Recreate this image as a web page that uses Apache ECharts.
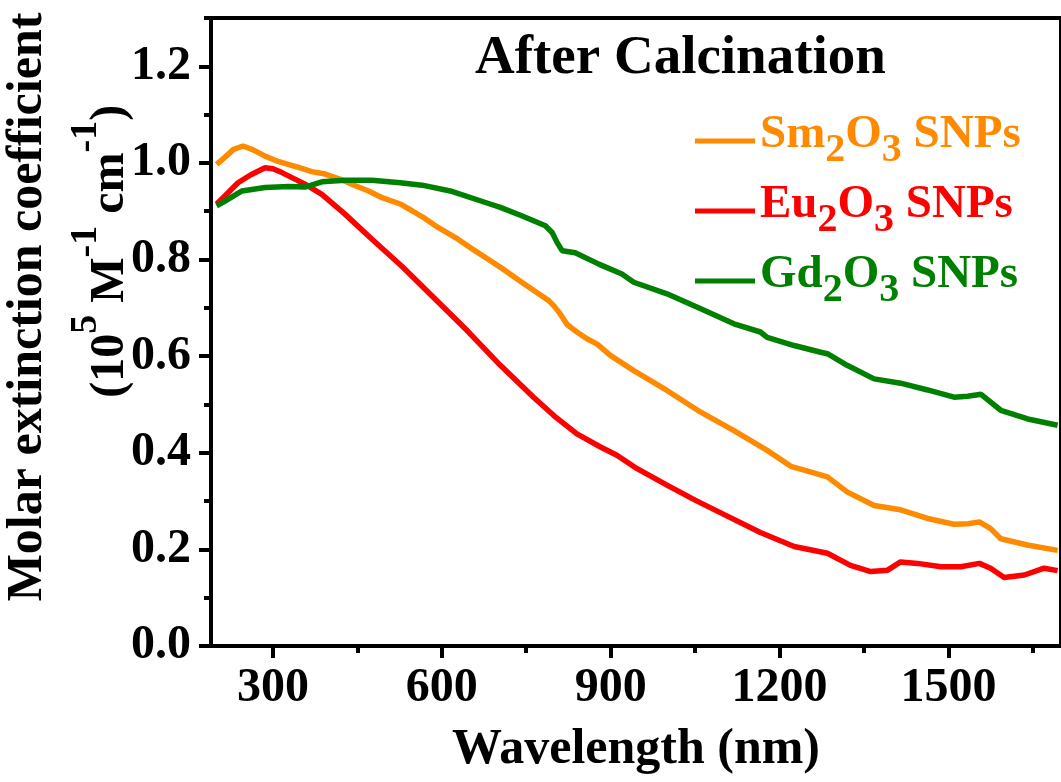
<!DOCTYPE html>
<html>
<head>
<meta charset="utf-8">
<script src="https://cdn.jsdelivr.net/npm/echarts@6/dist/echarts.min.js"></script>
<style>
html,body{margin:0;padding:0;background:#fff;}
#chart{width:1061px;height:782px;}
</style>
</head>
<body>
<div id="chart"></div>
<script>
// ---- data ----
const seriesNames = ['Sm2O3 SNPs', 'Eu2O3 SNPs', 'Gd2O3 SNPs'];

const smWavelength = [200, 215, 230, 247, 265, 286, 305, 327, 350, 369, 393, 420, 440, 470, 494, 526, 547, 570, 594, 625, 654, 683, 713, 742, 772, 790, 800, 810, 823, 840, 858, 876, 900, 941, 1000, 1060, 1119, 1178, 1220, 1250, 1285, 1320, 1368, 1415, 1463, 1510, 1535, 1555, 1575, 1593, 1640, 1694];
const smValue = [0.997, 1.012, 1.028, 1.035, 1.027, 1.014, 1.005, 0.997, 0.989, 0.982, 0.977, 0.966, 0.956, 0.942, 0.928, 0.915, 0.901, 0.885, 0.866, 0.845, 0.822, 0.800, 0.777, 0.753, 0.729, 0.715, 0.703, 0.688, 0.665, 0.650, 0.636, 0.625, 0.601, 0.570, 0.529, 0.484, 0.446, 0.405, 0.372, 0.362, 0.350, 0.319, 0.291, 0.282, 0.264, 0.252, 0.253, 0.257, 0.243, 0.222, 0.209, 0.198];

const euWavelength = [200, 215, 238, 260, 286, 300, 316, 340, 357, 387, 428, 476, 530, 585, 645, 704, 763, 800, 840, 882, 911, 947, 1000, 1050, 1100, 1166, 1226, 1285, 1326, 1362, 1392, 1415, 1445, 1487, 1522, 1555, 1575, 1599, 1635, 1670, 1694];
const euValue = [0.915, 0.932, 0.959, 0.975, 0.990, 0.988, 0.980, 0.966, 0.956, 0.935, 0.894, 0.842, 0.785, 0.722, 0.653, 0.581, 0.515, 0.476, 0.439, 0.412, 0.395, 0.367, 0.333, 0.302, 0.273, 0.235, 0.206, 0.192, 0.167, 0.154, 0.157, 0.174, 0.171, 0.164, 0.164, 0.171, 0.161, 0.142, 0.147, 0.161, 0.156];

const gdWavelength = [200, 215, 245, 286, 328, 357, 387, 428, 476, 526, 565, 615, 683, 704, 743, 784, 796, 805, 814, 837, 880, 920, 941, 1000, 1060, 1119, 1166, 1178, 1226, 1273, 1285, 1320, 1368, 1415, 1463, 1510, 1534, 1558, 1593, 1641, 1694];
const gdValue = [0.911, 0.921, 0.942, 0.949, 0.951, 0.950, 0.961, 0.964, 0.964, 0.959, 0.954, 0.942, 0.916, 0.908, 0.890, 0.870, 0.856, 0.835, 0.818, 0.814, 0.790, 0.770, 0.753, 0.729, 0.698, 0.667, 0.650, 0.639, 0.622, 0.608, 0.605, 0.581, 0.553, 0.544, 0.530, 0.515, 0.517, 0.521, 0.488, 0.470, 0.457];

const xMajorTicks = [300, 600, 900, 1200, 1500];
const xMinorTicks = [450, 750, 1050, 1350, 1650];
const yMajorTicks = [0, 0.2, 0.4, 0.6, 0.8, 1.0, 1.2];
const yMinorTicks = [0.1, 0.3, 0.5, 0.7, 0.9, 1.1, 1.3];

// ---- styling ----
const FONT = 'Liberation Serif';
const colors = { sm: '#FF8A00', eu: '#FF0000', gd: '#008000' };
const X_MIN = 190, X_MAX = 1700, Y_MIN = 0, Y_MAX = 1.3;

function pairs(xs, ys) { return xs.map((x, i) => [x, ys[i]]); }

const axisLineStyle = { color: '#000', width: 4 };
const tickLabelStyle = { fontFamily: FONT, fontWeight: 'bold', fontSize: 48, color: '#000' };

function richPair(color) {
  return [
    { fontFamily: FONT, fontWeight: 'bold', fontSize: 47, lineHeight: 46, color: color, verticalAlign: 'top' },
    { fontFamily: FONT, fontWeight: 'bold', fontSize: 40, lineHeight: 40, color: color, verticalAlign: 'bottom' }
  ];
}
const [oM, oS] = richPair(colors.sm);
const [rM, rS] = richPair(colors.eu);
const [gM, gS] = richPair(colors.gd);
const legendRich = {
  oM, oS, rM, rS, gM, gS,
  sp: { fontFamily: FONT, fontWeight: 'bold', fontSize: 47, lineHeight: 60, verticalAlign: 'middle' }
};
const legendText = {
  'Sm2O3 SNPs': '{oM|Sm}{oS|2}{oM|O}{oS|3}{sp| }{oM|SNPs}',
  'Eu2O3 SNPs': '{rM|Eu}{rS|2}{rM|O}{rS|3}{sp| }{rM|SNPs}',
  'Gd2O3 SNPs': '{gM|Gd}{gS|2}{gM|O}{gS|3}{sp| }{gM|SNPs}'
};

const chart = echarts.init(document.getElementById('chart'), null, { renderer: 'canvas' });

const option = {
  animation: false,
  backgroundColor: '#fff',
  title: {
    text: 'After Calcination',
    left: 475, top: 31, padding: 0,
    textStyle: { fontFamily: FONT, fontWeight: 'bold', fontSize: 55, color: '#000' }
  },
  legend: {
    orient: 'vertical', left: 695, top: 111, padding: 0,
    icon: 'rect',
    itemWidth: 60, itemHeight: 5, itemGap: 10,
    selectedMode: false,
    data: seriesNames,
    formatter: name => legendText[name],
    textStyle: { rich: legendRich }
  },
  grid: { left: 211, right: 0, top: 18, bottom: 136, containLabel: false },
  xAxis: [
    {
      type: 'value', min: X_MIN, max: X_MAX, position: 'bottom',
      axisLine: { show: true, onZero: false, lineStyle: axisLineStyle },
      axisTick: { show: true, length: 12, lineStyle: axisLineStyle, customValues: xMajorTicks },
      axisLabel: Object.assign({ margin: 19, customValues: xMajorTicks, formatter: v => String(v) }, tickLabelStyle),
      splitLine: { show: false },
      name: 'Wavelength (nm)', nameLocation: 'middle', nameGap: 79,
      nameTextStyle: { fontFamily: FONT, fontWeight: 'bold', fontSize: 50, color: '#000' }
    },
    {
      type: 'value', min: X_MIN, max: X_MAX, position: 'bottom',
      axisLine: { show: false, onZero: false },
      axisTick: { show: true, length: 7, lineStyle: axisLineStyle, customValues: xMinorTicks },
      axisLabel: { show: false },
      splitLine: { show: false }
    },
    {
      type: 'value', min: X_MIN, max: X_MAX, position: 'top',
      axisLine: { show: true, onZero: false, lineStyle: axisLineStyle },
      axisTick: { show: false }, axisLabel: { show: false }, splitLine: { show: false }
    }
  ],
  yAxis: [
    {
      type: 'value', min: Y_MIN, max: Y_MAX, position: 'left',
      axisLine: { show: true, onZero: false, lineStyle: axisLineStyle },
      axisTick: { show: true, length: 12, lineStyle: axisLineStyle, customValues: yMajorTicks },
      axisLabel: Object.assign({ margin: 20, customValues: yMajorTicks, formatter: v => v.toFixed(1) }, tickLabelStyle),
      splitLine: { show: false }
    },
    {
      type: 'value', min: Y_MIN, max: Y_MAX, position: 'left',
      axisLine: { show: false, onZero: false },
      axisTick: { show: true, length: 7, lineStyle: axisLineStyle, customValues: yMinorTicks },
      axisLabel: { show: false },
      splitLine: { show: false }
    },
    {
      type: 'value', min: Y_MIN, max: Y_MAX, position: 'right',
      axisLine: { show: true, onZero: false, lineStyle: axisLineStyle },
      axisTick: { show: false }, axisLabel: { show: false }, splitLine: { show: false }
    }
  ],
  graphic: [
    {
      type: 'text', x: 28, y: 307, rotation: Math.PI / 2,
      style: {
        text: 'Molar extinction coefficient',
        fontFamily: FONT, fontWeight: 'bold', fontSize: 50, fill: '#000',
        align: 'center', verticalAlign: 'middle'
      }
    },
    {
      type: 'text', x: 101, y: 250, rotation: Math.PI / 2,
      style: {
        text: '{m|(10}{s|5}{m| M}{s|-1}{m| cm}{s|-1}{m|)}{h| }',
        fontFamily: FONT, fontWeight: 'bold', fontSize: 48, fill: '#000',
        align: 'center', verticalAlign: 'middle',
        rich: {
          m: { fontFamily: FONT, fontWeight: 'bold', fontSize: 48, lineHeight: 46, fill: '#000', verticalAlign: 'bottom' },
          s: { fontFamily: FONT, fontWeight: 'bold', fontSize: 38, lineHeight: 36, fill: '#000', verticalAlign: 'top' },
          h: { fontFamily: FONT, fontWeight: 'bold', fontSize: 10, lineHeight: 68, fill: '#000' }
        }
      }
    }
  ],
  series: [
    {
      name: seriesNames[0], type: 'line', xAxisIndex: 0, yAxisIndex: 0,
      data: pairs(smWavelength, smValue), symbol: 'none', smooth: false,
      lineStyle: { color: colors.sm, width: 5.5 }, itemStyle: { color: colors.sm }
    },
    {
      name: seriesNames[1], type: 'line', xAxisIndex: 0, yAxisIndex: 0,
      data: pairs(euWavelength, euValue), symbol: 'none', smooth: false,
      lineStyle: { color: colors.eu, width: 5.5 }, itemStyle: { color: colors.eu }
    },
    {
      name: seriesNames[2], type: 'line', xAxisIndex: 0, yAxisIndex: 0,
      data: pairs(gdWavelength, gdValue), symbol: 'none', smooth: false,
      lineStyle: { color: colors.gd, width: 5.5 }, itemStyle: { color: colors.gd }
    }
  ]
};
chart.setOption(option);
</script>
</body>
</html>
